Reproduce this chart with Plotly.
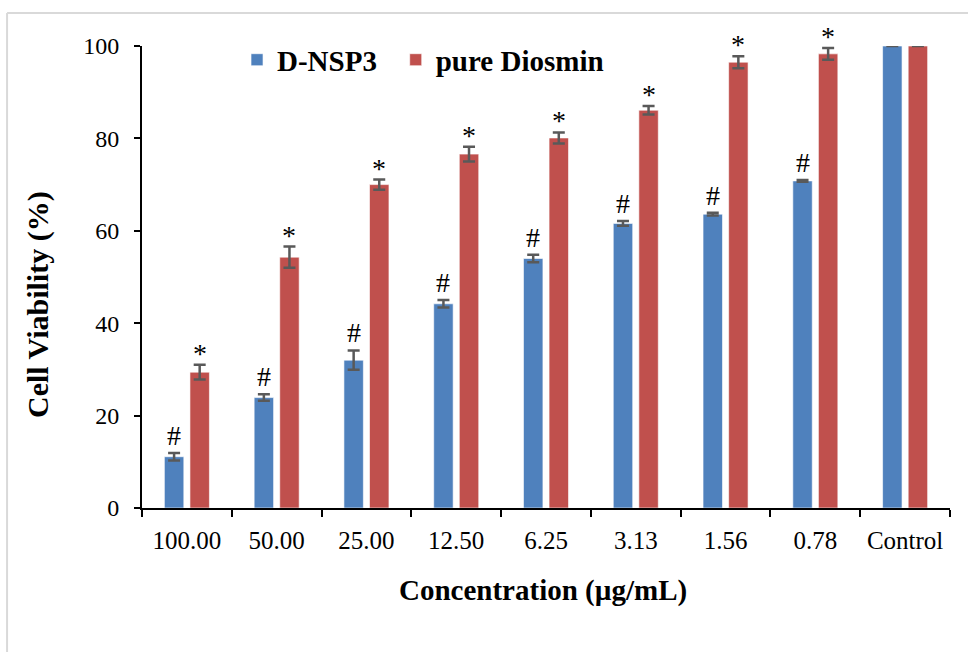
import plotly.graph_objects as go

categories = ["100.00", "50.00", "25.00", "12.50", "6.25", "3.13", "1.56", "0.78", "Control"]
dnsp3 = [11.1, 23.9, 32.0, 44.2, 54.0, 61.6, 63.6, 70.8, 100.0]
dnsp3_err = [0.8, 0.7, 2.1, 0.8, 0.8, 0.5, 0.3, 0.2, 0.0]
diosmin = [29.4, 54.3, 70.0, 76.6, 80.1, 86.1, 96.5, 98.3, 100.0]
diosmin_err = [1.6, 2.3, 1.1, 1.6, 1.2, 0.9, 1.3, 1.25, 0.0]
dnsp3_marks = ["#"] * 8 + [""]
diosmin_marks = ["*"] * 8 + [""]

BLUE = "#4F81BD"
RED = "#C0504D"
ERR = "#595959"
FONT = "Liberation Serif"

fig = go.Figure()
fig.add_trace(go.Bar(
    name="D-NSP3", x=categories, y=dnsp3, legend="legend",
    marker=dict(color=BLUE, line=dict(color="rgba(255,255,255,0.6)", width=1)),
    error_y=dict(type="data", array=dnsp3_err, color=ERR, thickness=2.5, width=6),
))
fig.add_trace(go.Bar(
    name="pure Diosmin", x=categories, y=diosmin, legend="legend2",
    marker=dict(color=RED, line=dict(color="rgba(255,255,255,0.6)", width=1)),
    error_y=dict(type="data", array=diosmin_err, color=ERR, thickness=2.5, width=6),
))

annotations = []
for i, (v, e, m) in enumerate(zip(dnsp3, dnsp3_err, dnsp3_marks)):
    if m:
        annotations.append(dict(x=i, y=v + e, xref="x", yref="y", text=m, showarrow=False,
                                xshift=-12.8, yanchor="bottom", yshift=0,
                                font=dict(family=FONT, size=28, color="black")))
for i, (v, e, m) in enumerate(zip(diosmin, diosmin_err, diosmin_marks)):
    if m:
        annotations.append(dict(x=i, y=v + e, xref="x", yref="y", text=m, showarrow=False,
                                xshift=12.8, yanchor="bottom", yshift=-6,
                                font=dict(family=FONT, size=28, color="black")))

annotations.append(dict(x=-0.1287, y=0.4394, xref="paper", yref="paper",
                        text="<b>Cell Viability (%)</b>", textangle=-90, showarrow=False,
                        xanchor="center", yanchor="middle",
                        font=dict(family=FONT, size=30, color="black")))
annotations.append(dict(x=0.496, y=-0.1775, xref="paper", yref="paper",
                        text="<b>Concentration (µg/mL)</b>", showarrow=False,
                        xanchor="center", yanchor="middle",
                        font=dict(family=FONT, size=29, color="black")))

shapes = [
    dict(type="line", xref="paper", yref="paper", x0=-0.167, x1=-0.167, y0=-0.45, y1=1.0714,
         line=dict(color="#d9d9d9", width=2)),
    dict(type="line", xref="paper", yref="paper", x0=-0.167, x1=1.1, y0=1.0714, y1=1.0714,
         line=dict(color="#d9d9d9", width=2)),
]

legend_font = dict(family=FONT, size=29, color="black", weight="bold")
fig.update_layout(
    width=968, height=652,
    margin=dict(l=142, r=18, t=46, b=144),
    paper_bgcolor="white", plot_bgcolor="white",
    barmode="group", bargap=0.43, bargroupgap=0.24,
    font=dict(family=FONT, color="black"),
    showlegend=True,
    legend=dict(orientation="h", x=0.1176, y=0.97, xanchor="left", yanchor="middle",
                font=legend_font, bgcolor="rgba(0,0,0,0)", itemwidth=30),
    legend2=dict(orientation="h", x=0.314, y=0.97, xanchor="left", yanchor="middle",
                 font=legend_font, bgcolor="rgba(0,0,0,0)", itemwidth=30),
    annotations=annotations,
    shapes=shapes,
)
fig.update_xaxes(type="category", categoryorder="array", categoryarray=categories,
                 range=[-0.5, len(categories) - 0.5], autorange=False,
                 showline=True, linecolor="black", linewidth=2, tickangle=0,
                 ticks="outside", tickson="boundaries", ticklen=7, tickwidth=2, tickcolor="black",
                 ticklabelstandoff=9,
                 tickfont=dict(family=FONT, size=25, color="black"), showgrid=False, zeroline=False)
fig.update_yaxes(range=[0, 100], tickvals=[0, 20, 40, 60, 80, 100], showline=True, linecolor="black",
                 linewidth=2, ticks="outside", ticklen=6, tickwidth=2, tickcolor="black",
                 ticklabelstandoff=10,
                 tickfont=dict(family=FONT, size=24, color="black"), showgrid=False, zeroline=False)

fig.write_html("out.html")
